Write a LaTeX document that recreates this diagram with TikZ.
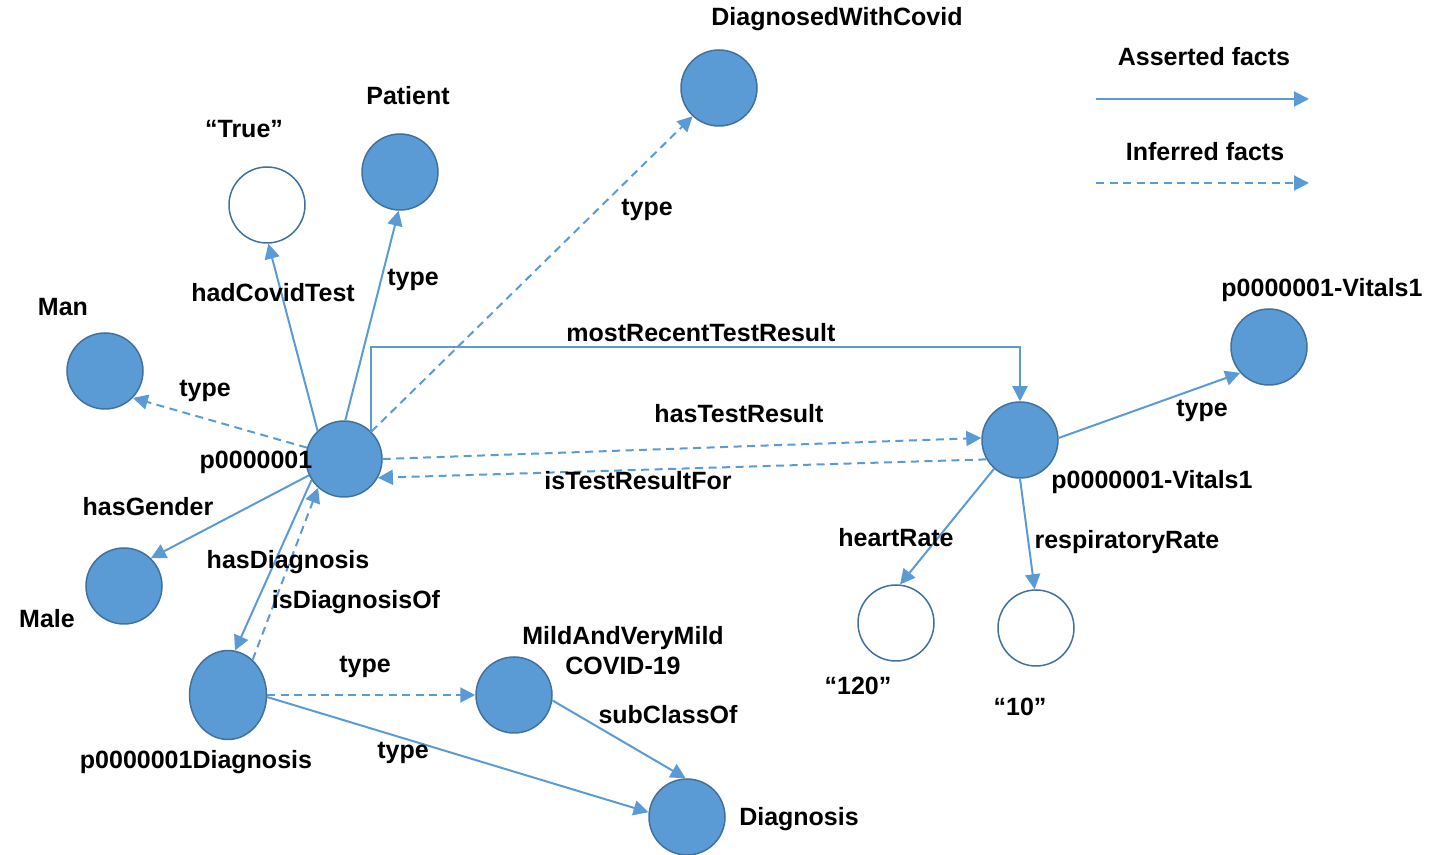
\documentclass[tikz,border=0pt]{standalone}
\usepackage{fontspec}
\setmainfont{Liberation Sans}
\usetikzlibrary{arrows.meta,shapes.geometric}
\definecolor{nodefill}{HTML}{5B9BD5}
\definecolor{nodeline}{HTML}{41719C}
\definecolor{edgeblue}{HTML}{5B9BD5}

\begin{document}
\begin{tikzpicture}[x=0.5pt,y=-0.5pt,
  res/.style={circle, fill=nodefill, draw=nodeline, line width=0.75pt, minimum size=38pt, inner sep=0pt},
  lit/.style={circle, fill=white, draw=nodeline, line width=0.75pt, minimum size=38pt, inner sep=0pt},
  lbl/.style={font=\bfseries\fontsize{12.5}{15}\selectfont, inner sep=0pt, align=center},
  asserted/.style={draw=edgeblue, line width=1pt, -{Triangle[length=7.5pt,width=7.5pt]}},
  inferred/.style={asserted, dash pattern=on 4pt off 2.75pt},
]
\useasboundingbox (0,0) rectangle (1448,855);

% ---- resources and literals ----
\node[res] (dwc)     at (719,88)  {};
\node[res] (patient) at (400,172) {};
\node[lit] (true)    at (267,205) {};
\node[res] (man)     at (105,371) {};
\node[res] (p)       at (344,459) {};
\node[res] (male)    at (124,586) {};
\node[ellipse, fill=nodefill, draw=nodeline, line width=0.75pt,
      minimum width=38.5pt, minimum height=44.5pt, inner sep=0pt] (pdiag) at (228,695) {};
\node[res] (mild)    at (514,695) {};
\node[res] (diag)    at (687,817) {};
\node[res] (vit)     at (1020,440) {};
\node[res] (vt)      at (1269,347) {};
\node[lit] (n120)    at (896,623) {};
\node[lit] (n10)     at (1036,628) {};

% ---- node names ----
\node[lbl] (tdwc)     at (837,19)  {DiagnosedWithCovid};
\node[lbl] (tpatient) at (408,96)  {Patient};
\node[lbl] (ttrue)    at (244,129) {“True”};
\node[lbl] (tman)     at (63,307)  {Man};
\node[lbl] (tp)       at (256,462) {p0000001};
\node[lbl] (tmale)    at (47,619)  {Male};
\node[lbl] (tpdiag)   at (196,762) {p0000001Diagnosis};
\node[lbl] (tmild)    at (623,651) {MildAndVeryMild\\COVID-19};
\node[lbl] (tdiag)    at (799,819) {Diagnosis};
\node[lbl] (tvit)     at (1152,482) {p0000001-Vitals1};
\node[lbl] (tvt)      at (1322,290) {p0000001-Vitals1};
\node[lbl] (t120)     at (858,686) {“120”};
\node[lbl] (t10)      at (1020,707) {“10”};

% ---- connectors ----
\coordinate (bend) at (1020,347);
\draw[asserted] (p.133) -- (true.-88);
\draw[asserted] (p.88) -- (patient.-92);
\draw[inferred] (p.45) -- (dwc.227);
\draw[inferred] (p.163) -- (man.-44);
\draw[asserted] (p.205) -- (male.46);
\draw[asserted] (p.213) -- (pdiag.81);
\draw[inferred] (pdiag.55) -- (p.228);
\draw[asserted] (p.45) |- (bend) -- (vit.north);
\draw[inferred] (p.0) -- (vit.177);
\draw[inferred] (vit.210) -- (p.-29);
\draw[asserted] (vit.3) -- (vt.222);
\draw[asserted] (vit.228) -- (n120.84);
\draw[asserted] (vit.-90) -- (n10.92);
\draw[inferred] (pdiag.0) -- (mild.180);
\draw[asserted] (pdiag.-3) -- (diag.173);
\draw[asserted] (mild.-8) -- (diag.92);

% ---- connector labels ----
\node[lbl] (lhad)   at (273,293) {hadCovidTest};
\node[lbl] (ltp)    at (413,280) {type};
\node[lbl] (ltdwc)  at (647,210) {type};
\node[lbl] (ltman)  at (205,391) {type};
\node[lbl] (lgen)   at (148,507) {hasGender};
\node[lbl] (lhdiag) at (288,562) {hasDiagnosis};
\node[lbl] (lidiag) at (356,602) {isDiagnosisOf};
\node[lbl] (lmrt)   at (701,333) {mostRecentTestResult};
\node[lbl] (lhtr)   at (739,414) {hasTestResult};
\node[lbl] (litr)   at (638,481) {isTestResultFor};
\node[lbl] (ltvit)  at (1202,411) {type};
\node[lbl] (lhr)    at (896,538) {heartRate};
\node[lbl] (lrr)    at (1127,542) {respiratoryRate};
\node[lbl] (ltmild) at (365,667) {type};
\node[lbl] (ltdiag) at (403,753) {type};
\node[lbl] (lsub)   at (668,715) {subClassOf};

% ---- legend ----
\node[lbl] (kasserted) at (1204,57)  {Asserted facts};
\node[lbl] (kinferred) at (1205,152) {Inferred facts};
\coordinate (ka1) at (1096,99);
\coordinate (ka2) at (1309,99);
\coordinate (ki1) at (1096,183);
\coordinate (ki2) at (1309,183);
\draw[asserted] (ka1) -- (ka2);
\draw[inferred] (ki1) -- (ki2);
\end{tikzpicture}
\end{document}
